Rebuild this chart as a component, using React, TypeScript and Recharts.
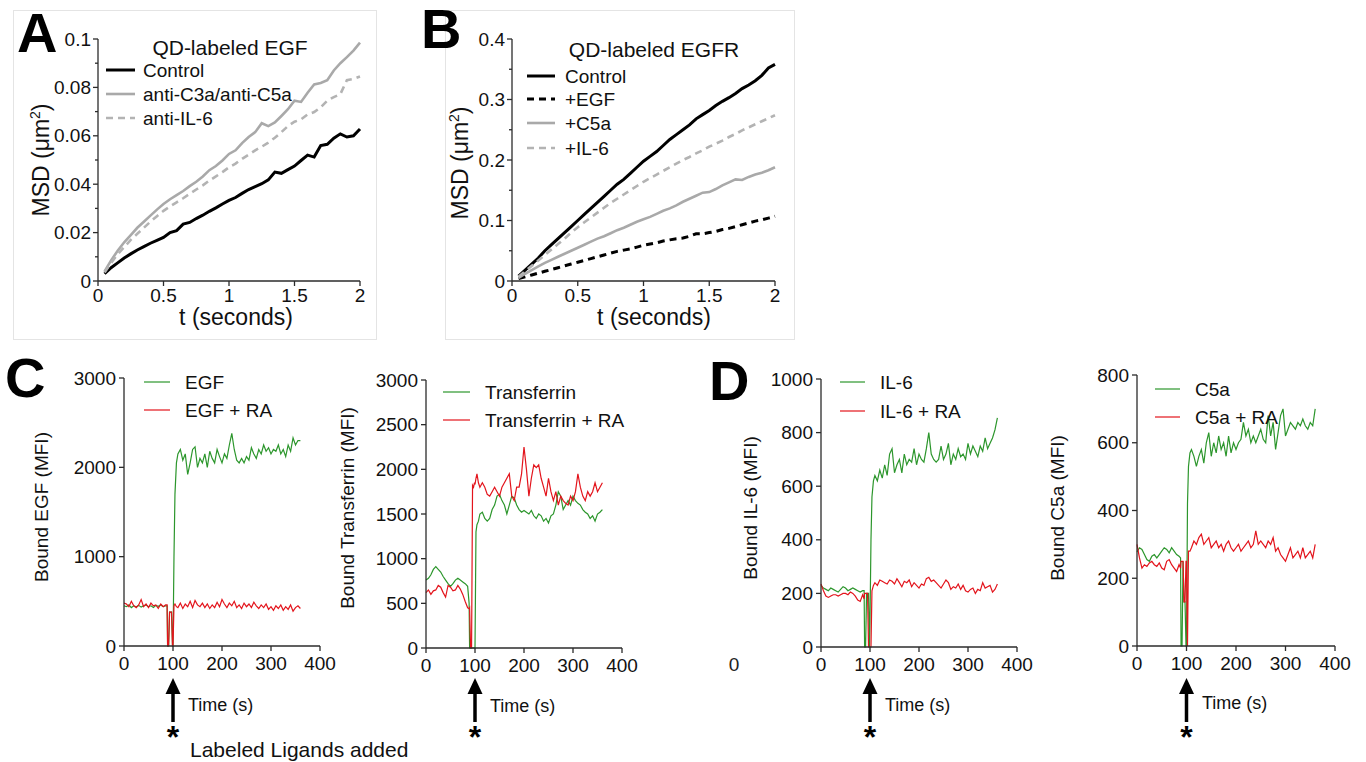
import React from "react";
import { LineChart, Line, XAxis, YAxis, Legend } from "recharts";

const FONT = '"Liberation Sans", Arial, Helvetica, sans-serif';
const AXIS = "#2b2b2b";
const GREEN = "#2c962c";
const RED = "#e3141c";

// ---------- A / B : MSD vs lag time ----------
const MSD_T = [
  0.05, 0.1, 0.15, 0.2, 0.25, 0.3, 0.35, 0.4, 0.45, 0.5,
  0.55, 0.6, 0.65, 0.7, 0.75, 0.8, 0.85, 0.9, 0.95, 1,
  1.05, 1.1, 1.15, 1.2, 1.25, 1.3, 1.35, 1.4, 1.45, 1.5,
  1.55, 1.6, 1.65, 1.7, 1.75, 1.8, 1.85, 1.9, 1.95, 2,
];

const A_CONTROL = [
  0.003, 0.0055, 0.0075, 0.0095, 0.0112, 0.0128, 0.0142, 0.0156, 0.0168, 0.018,
  0.02, 0.0208, 0.0235, 0.0242, 0.0258, 0.0272, 0.0288, 0.0302, 0.0318, 0.0333,
  0.0345, 0.0362, 0.0378, 0.039, 0.0402, 0.0418, 0.045, 0.0445, 0.046, 0.0475,
  0.0498, 0.052, 0.0512, 0.056, 0.0565, 0.059, 0.0608, 0.0595, 0.06, 0.0628,
];
const A_C3A = [
  0.004, 0.0085, 0.0125, 0.016, 0.019, 0.022, 0.0245, 0.027, 0.0295, 0.0318,
  0.0338, 0.0355, 0.0372, 0.0392, 0.041, 0.0432, 0.0458, 0.0475, 0.0498, 0.0525,
  0.054, 0.057, 0.0595, 0.0615, 0.0652, 0.064, 0.0655, 0.0682, 0.071, 0.0745,
  0.074, 0.0778, 0.0812, 0.0818, 0.083, 0.087, 0.09, 0.0925, 0.0952, 0.0985,
];
const A_IL6 = [
  0.0035, 0.0075, 0.011, 0.014, 0.017, 0.0195, 0.022, 0.0245, 0.0268, 0.029,
  0.0308, 0.0325, 0.0342, 0.036, 0.0378, 0.0395, 0.0415, 0.0432, 0.045, 0.047,
  0.0485, 0.0505, 0.0522, 0.054, 0.0555, 0.0572, 0.0592, 0.0615, 0.064, 0.0658,
  0.0668, 0.0688, 0.0698, 0.0718, 0.0745, 0.076, 0.0772, 0.083, 0.0835, 0.0845,
];

const B_CONTROL = [
  0.008, 0.018, 0.028, 0.038, 0.05, 0.06, 0.07, 0.08, 0.09, 0.1,
  0.11, 0.12, 0.13, 0.14, 0.15, 0.16, 0.168, 0.178, 0.188, 0.198,
  0.206, 0.214, 0.224, 0.234, 0.242, 0.25, 0.258, 0.268, 0.275, 0.282,
  0.29, 0.297, 0.303, 0.31, 0.318, 0.324, 0.331, 0.34, 0.352, 0.358,
];
const B_EGF = [
  0.004, 0.007, 0.01, 0.013, 0.016, 0.019, 0.022, 0.025, 0.028, 0.031,
  0.034, 0.037, 0.04, 0.043, 0.046, 0.049, 0.051, 0.053, 0.056, 0.059,
  0.061, 0.063, 0.066, 0.068, 0.07, 0.071, 0.074, 0.078, 0.078, 0.08,
  0.082, 0.085, 0.087, 0.09, 0.093, 0.096, 0.099, 0.101, 0.104, 0.107,
];
const B_C5A = [
  0.005, 0.012, 0.018, 0.024, 0.03, 0.035, 0.04, 0.045, 0.05, 0.055,
  0.06, 0.065, 0.07, 0.074, 0.079, 0.084, 0.088, 0.093, 0.098, 0.102,
  0.106, 0.111, 0.116, 0.12, 0.125, 0.131, 0.136, 0.141, 0.146, 0.147,
  0.152, 0.158, 0.163, 0.168, 0.167, 0.172, 0.176, 0.179, 0.183, 0.188,
];
const B_IL6 = [
  0.007, 0.016, 0.025, 0.034, 0.043, 0.052, 0.061, 0.07, 0.08, 0.089,
  0.097, 0.105, 0.113, 0.121, 0.129, 0.136, 0.143, 0.15, 0.157, 0.164,
  0.17, 0.176, 0.182, 0.188, 0.194, 0.2, 0.205, 0.211, 0.216, 0.222,
  0.227, 0.232, 0.238, 0.243, 0.249, 0.254, 0.259, 0.264, 0.269, 0.274,
];

const MSD_X_TICKS = [0, 0.5, 1, 1.5, 2];
const A_Y_TICKS = [0, 0.01, 0.02, 0.03, 0.04, 0.05, 0.06, 0.07, 0.08, 0.09, 0.1];
const B_Y_TICKS = [0, 0.05, 0.1, 0.15, 0.2, 0.25, 0.3, 0.35, 0.4];

// ---------- C / D : bound ligand over time ----------
const TIME = [
  0, 5, 10, 15, 20, 25, 30, 35, 40, 45, 50, 55, 60, 65, 70, 75, 80, 85,
  88, 89, 91, 93, 95, 97, 99, 100, 102, 104, 107,
  110, 115, 120, 125, 130, 135, 140, 145, 150, 155,
  160, 165, 170, 175, 180, 185, 190, 195, 200, 205,
  210, 215, 220, 225, 230, 235, 240, 245, 250, 255,
  260, 265, 270, 275, 280, 285, 290, 295, 300, 305,
  310, 315, 320, 325, 330, 335, 340, 345, 350, 355,
  360,
];

const EGF = [
  450, 440, 460, 430, 450, 440, 455, 435, 450, 460, 440, 450, 430, 455, 445, 460, 440, 450,
  450, 0, 0, 380, 380, 380, 0, 0, 1000, 1700, 2050,
  2150, 2200, 2080, 2150, 1920, 2050, 2200, 2230, 2000, 2100,
  2050, 2150, 2000, 2180, 2100, 2050, 2200, 2120, 2050, 2150,
  2100, 2250, 2380, 2200, 2080, 2050, 2100, 2050, 2120, 2080,
  2220, 2150, 2100, 2200, 2150, 2250, 2180, 2220, 2150, 2200,
  2180, 2250, 2150, 2200, 2120, 2250, 2180, 2330, 2250, 2300,
  2300,
];
const EGF_RA = [
  480, 470, 440, 500, 450, 430, 460, 520, 440, 470, 430, 480, 450, 460, 420, 470, 440, 460,
  460, 0, 0, 380, 380, 380, 0, 0, 450, 470, 440,
  430, 480, 420, 470, 440, 500, 430, 510, 460, 440,
  480, 430, 470, 420, 460, 430, 490, 440, 520, 470,
  430, 480, 450, 500, 430, 460, 420, 480, 440, 470,
  430, 490, 450, 420, 460, 430, 470, 410, 440, 400,
  450, 420, 460, 400, 440, 410, 460, 390, 430, 450,
  420,
];

const TRANSFERRIN = [
  760, 780, 820, 880, 910, 880, 850, 800, 760, 720, 690, 720, 760, 780, 760, 740, 720, 690,
  500, 0, 0, 0, 0, 0, 0, 0, 1300, 1380, 1420,
  1500, 1520, 1450, 1420, 1450, 1550, 1600, 1700, 1720, 1650,
  1600, 1500, 1600, 1700, 1680, 1600, 1550, 1520, 1540, 1520,
  1500, 1540, 1480, 1450, 1500, 1480, 1420, 1450, 1400, 1480,
  1500, 1600, 1750, 1700, 1550, 1600, 1650, 1600, 1700, 1650,
  1620, 1600, 1550, 1520, 1500, 1450, 1480, 1420, 1500, 1520,
  1550,
];
const TRANSFERRIN_RA = [
  620, 650, 600, 640, 650, 700, 680, 620, 570, 700, 680, 640, 650, 700, 660, 600, 520, 450,
  440, 450, 0, 0, 1820, 1800, 1850, 1830, 1900, 1950, 1850,
  1800, 1850, 1800, 1720, 1700, 1750, 1800, 1750, 1700, 1800,
  1850, 1900, 1950, 1700, 1650, 1800, 1800, 1950, 2250, 2000,
  1700, 1900, 2050, 2020, 2050, 1900, 1800, 1700, 1900, 1750,
  1650, 1750, 1600, 1700, 1650, 1620, 1600, 1700, 1650, 1750,
  1950, 1800, 1700, 1650, 1750, 1700, 1750, 1850, 1750, 1800,
  1850,
];

const IL6 = [
  230, 220, 215, 210, 220, 215, 210, 205, 215, 225, 220, 210, 215, 220, 215, 210, 205, 210,
  210, 0, 0, 200, 200, 200, 0, 100, 400, 560, 620,
  640, 620, 660, 630, 680, 640, 720, 740, 650, 680,
  700, 650, 720, 680, 700, 690, 740, 680, 720, 700,
  690, 740, 800, 720, 700, 690, 700, 750, 700, 720,
  760, 680, 720, 700, 740, 710, 720, 700, 760, 720,
  750, 730, 710, 750, 730, 780, 740, 760, 780, 810,
  855,
];
const IL6_RA = [
  235, 210, 190, 185, 190, 195, 195, 190, 195, 200, 200, 195, 205, 200, 190, 175, 170, 195,
  180, 200, 200, 200, 200, 0, 0, 0, 0, 210, 230,
  240, 230, 250, 245, 240, 235, 250, 245, 235, 255,
  240, 225, 245, 240, 250, 225, 240, 230, 220, 235,
  230, 255, 260, 245, 250, 240, 230, 220, 235, 250,
  240, 215, 225, 220, 235, 215, 230, 210, 205, 215,
  220, 200, 215, 210, 240, 220, 225, 230, 205, 215,
  235,
];

const C5A = [
  278, 290, 285, 270, 255, 250, 265, 270, 260, 270, 280, 290, 285, 275, 290, 280, 270, 265,
  260, 0, 0, 250, 130, 130, 0, 0, 420, 530, 570,
  580, 560, 530, 560, 580, 540, 600, 630, 560, 600,
  570, 620, 580, 600, 560, 620, 570, 600, 580, 600,
  610, 660, 620, 640, 600, 620, 600, 620, 640, 610,
  600, 680, 620, 660, 580, 630, 680, 700, 620, 640,
  660, 650, 640, 660, 650, 670, 650, 640, 660, 650,
  700,
];
const C5A_RA = [
  300, 260, 230, 240, 235, 245, 250, 240, 235, 245, 230, 225, 250, 255, 240, 230, 220, 240,
  230, 250, 250, 250, 130, 130, 250, 250, 0, 280, 280,
  290, 310, 300, 320, 330, 300, 310, 320, 290, 300,
  310, 290, 300, 280, 300, 310, 290, 280, 290, 300,
  280, 290, 300, 310, 290, 300, 340, 300, 310, 300,
  290, 310, 300, 320, 280, 290, 270, 260, 250, 270,
  290, 260, 270, 280, 260, 290, 260, 270, 280, 260,
  300,
];

const TIME_TICKS = [0, 100, 200, 300, 400];

const msdA = MSD_T.map((t, i) => ({ t, control: A_CONTROL[i], c3a: A_C3A[i], il6: A_IL6[i] }));
const msdB = MSD_T.map((t, i) => ({ t, control: B_CONTROL[i], egf: B_EGF[i], c5a: B_C5A[i], il6: B_IL6[i] }));
const pair = (a: number[], b: number[]) => TIME.map((t, i) => ({ t, plain: a[i], ra: b[i] }));

type Series = { key: string; name: string; color: string; width: number; dash?: string };
type LegendDef = {
  title?: string;
  titleAt?: [number, number];
  titleSize?: number;
  x1: number;
  x2: number;
  tx: number;
  rows: number[];
  size: number;
};
type PanelDef = {
  box: [number, number, number, number];
  plot: [number, number, number, number];
  data: any[];
  series: Series[];
  xDomain: [number, number];
  xTicks: number[];
  yDomain: [number, number];
  yTicks: number[];
  minor: boolean;
  tickSize: number;
  yGap: number;
  xBase: number;
  yLabel: React.ReactNode;
  yLabelAt: [number, number];
  yLabelSize: number;
  xLabel: string;
  xLabelAt: [number, number];
  xLabelSize: number;
  xLabelAnchor: "middle" | "start";
  legend: LegendDef;
};

function YTick(props: any) {
  const { x, y, payload, index, minor, size, gap } = props;
  const major = !minor || index % 2 === 0;
  return (
    <g>
      <line x1={x} x2={x - (major ? 5 : 3)} y1={y} y2={y} stroke={AXIS} strokeWidth={1.3} />
      {major && (
        <text x={x - gap} y={y + size * 0.35} textAnchor="end" fontSize={size} fontFamily={FONT} fill="#111">
          {payload.value}
        </text>
      )}
    </g>
  );
}

function XTick(props: any) {
  const { x, y, payload, size, base } = props;
  return (
    <g>
      <line x1={x} x2={x} y1={y} y2={y + 5} stroke={AXIS} strokeWidth={1.3} />
      <text x={x} y={y + base} textAnchor="middle" fontSize={size} fontFamily={FONT} fill="#111">
        {payload.value}
      </text>
    </g>
  );
}

function Panel({ def }: { def: PanelDef }) {
  const [left, top, width, height] = def.box;
  const [pl, pt, pr, pb] = def.plot;
  const lg = def.legend;

  const legendContent = (props: any) => {
    const payload = props.payload || [];
    // keep the series order, not the legend's sorted order
    const items = def.series
      .map((s) => payload.find((p: any) => p.dataKey === s.key))
      .filter(Boolean);
    return (
      <svg width={width} height={height} style={{ overflow: "visible" }}>
        {lg.title && lg.titleAt && (
          <text
            x={lg.titleAt[0] - left}
            y={lg.titleAt[1] - top}
            textAnchor="middle"
            fontSize={lg.titleSize}
            fontFamily={FONT}
            fill="#111"
          >
            {lg.title}
          </text>
        )}
        {items.map((it: any, i: number) => (
          <g key={i}>
            <line
              x1={lg.x1 - left}
              x2={lg.x2 - left}
              y1={lg.rows[i] - top}
              y2={lg.rows[i] - top}
              stroke={it.color}
              strokeWidth={it.payload?.strokeWidth}
              strokeDasharray={it.payload?.strokeDasharray}
            />
            <text x={lg.tx - left} y={lg.rows[i] - top + lg.size * 0.36} fontSize={lg.size} fontFamily={FONT} fill="#111">
              {it.value}
            </text>
          </g>
        ))}
      </svg>
    );
  };

  return (
    <div style={{ position: "absolute", left, top, width, height }}>
      <LineChart
        width={width}
        height={height}
        data={def.data}
        margin={{ top: pt - top, right: left + width - pr, bottom: 0, left: 0 }}
      >
        <XAxis
          dataKey="t"
          type="number"
          domain={def.xDomain}
          ticks={def.xTicks}
          interval={0}
          height={top + height - pb}
          stroke={AXIS}
          strokeWidth={1.3}
          tickLine={false}
          tickSize={0}
          tickMargin={0}
          tick={<XTick size={def.tickSize} base={def.xBase} />}
          label={() => (
            <text
              x={def.xLabelAt[0] - left}
              y={def.xLabelAt[1] - top}
              textAnchor={def.xLabelAnchor}
              fontSize={def.xLabelSize}
              fontFamily={FONT}
              fill="#111"
            >
              {def.xLabel}
            </text>
          )}
        />
        <YAxis
          type="number"
          domain={def.yDomain}
          ticks={def.yTicks}
          interval={0}
          width={pl - left}
          stroke={AXIS}
          strokeWidth={1.3}
          tickLine={false}
          tickSize={0}
          tickMargin={0}
          tick={<YTick minor={def.minor} size={def.tickSize} gap={def.yGap} />}
          label={() => (
            <text
              transform={`translate(${def.yLabelAt[0] - left},${def.yLabelAt[1] - top}) rotate(-90)`}
              textAnchor="middle"
              fontSize={def.yLabelSize}
              fontFamily={FONT}
              fill="#111"
            >
              {def.yLabel}
            </text>
          )}
        />
        <Legend
          layout="vertical"
          align="center"
          verticalAlign="middle"
          content={legendContent}
          wrapperStyle={{ left: 0, top: 0, width, height, pointerEvents: "none" }}
        />
        {def.series.map((s) => (
          <Line
            key={s.key}
            dataKey={s.key}
            name={s.name}
            type="linear"
            stroke={s.color}
            strokeWidth={s.width}
            strokeDasharray={s.dash}
            dot={false}
            activeDot={false}
            isAnimationActive={false}
          />
        ))}
      </LineChart>
    </div>
  );
}

const msdSup = (
  <>
    MSD (μm
    <tspan fontSize={14} dy={-9}>
      2
    </tspan>
    <tspan dy={9}>)</tspan>
  </>
);

const panelA: PanelDef = {
  box: [13, 10, 364, 330],
  plot: [98, 39, 360, 281],
  data: msdA,
  series: [
    { key: "control", name: "Control", color: "#000", width: 3 },
    { key: "c3a", name: "anti-C3a/anti-C5a", color: "#a9a9a9", width: 2.6 },
    { key: "il6", name: "anti-IL-6", color: "#b3b3b3", width: 2.6, dash: "7 5" },
  ],
  xDomain: [0, 2],
  xTicks: MSD_X_TICKS,
  yDomain: [0, 0.1],
  yTicks: A_Y_TICKS,
  minor: true,
  tickSize: 19,
  yGap: 7,
  xBase: 21,
  yLabel: msdSup,
  yLabelAt: [49, 160],
  yLabelSize: 23,
  xLabel: "t (seconds)",
  xLabelAt: [236, 325],
  xLabelSize: 23,
  xLabelAnchor: "middle",
  legend: { title: "QD-labeled EGF", titleAt: [230, 55], titleSize: 21, x1: 106, x2: 135, tx: 143, rows: [70, 94, 118], size: 19 },
};

const panelB: PanelDef = {
  box: [445, 10, 352, 330],
  plot: [512, 39, 775, 281],
  data: msdB,
  series: [
    { key: "control", name: "Control", color: "#000", width: 3 },
    { key: "egf", name: "+EGF", color: "#000", width: 3, dash: "7 5" },
    { key: "c5a", name: "+C5a", color: "#a9a9a9", width: 2.6 },
    { key: "il6", name: "+IL-6", color: "#b3b3b3", width: 2.6, dash: "7 5" },
  ],
  xDomain: [0, 2],
  xTicks: MSD_X_TICKS,
  yDomain: [0, 0.4],
  yTicks: B_Y_TICKS,
  minor: true,
  tickSize: 19,
  yGap: 7,
  xBase: 21,
  yLabel: msdSup,
  yLabelAt: [468, 163],
  yLabelSize: 23,
  xLabel: "t (seconds)",
  xLabelAt: [654, 325],
  xLabelSize: 23,
  xLabelAnchor: "middle",
  legend: { title: "QD-labeled EGFR", titleAt: [654, 57], titleSize: 21, x1: 527, x2: 555, tx: 565, rows: [76, 99, 123, 148], size: 19 },
};

function tracePanel(
  box: [number, number, number, number],
  plot: [number, number, number, number],
  data: any[],
  names: [string, string],
  yMax: number,
  yTicks: number[],
  yLabel: string,
  yLabelAt: [number, number],
  xLabelAt: [number, number],
  legend: { x1: number; x2: number; tx: number; rows: number[] }
): PanelDef {
  return {
    box,
    plot,
    data,
    series: [
      { key: "plain", name: names[0], color: GREEN, width: 1.2 },
      { key: "ra", name: names[1], color: RED, width: 1.2 },
    ],
    xDomain: [0, 400],
    xTicks: TIME_TICKS,
    yDomain: [0, yMax],
    yTicks,
    minor: false,
    tickSize: 19,
    yGap: 8,
    xBase: 24,
    yLabel,
    yLabelAt,
    yLabelSize: 19,
    xLabel: "Time (s)",
    xLabelAt,
    xLabelSize: 18,
    xLabelAnchor: "start",
    legend: { ...legend, size: 19 },
  };
}

const panelC1 = tracePanel(
  [14, 362, 330, 364], [124, 378, 320, 646], pair(EGF, EGF_RA), ["EGF", "EGF + RA"],
  3000, [0, 1000, 2000, 3000], "Bound EGF (MFI)", [48, 507], [188, 711],
  { x1: 144, x2: 170, tx: 185, rows: [382, 410] }
);
const panelC2 = tracePanel(
  [336, 364, 310, 364], [426, 380, 622, 648], pair(TRANSFERRIN, TRANSFERRIN_RA), ["Transferrin", "Transferrin + RA"],
  3000, [0, 500, 1000, 1500, 2000, 2500, 3000], "Bound Transferrin (MFI)", [354, 508], [490, 712],
  { x1: 443, x2: 470, tx: 485, rows: [392, 420] }
);
const panelD1 = tracePanel(
  [731, 363, 310, 364], [821, 379, 1017, 647], pair(IL6, IL6_RA), ["IL-6", "IL-6 + RA"],
  1000, [0, 200, 400, 600, 800, 1000], "Bound IL-6 (MFI)", [757, 508], [885, 711],
  { x1: 840, x2: 865, tx: 880, rows: [382, 411] }
);
const panelD2 = tracePanel(
  [1047, 359, 315, 367], [1137, 375, 1335, 646], pair(C5A, C5A_RA), ["C5a", "C5a + RA"],
  800, [0, 200, 400, 600, 800], "Bound C5a (MFI)", [1064, 508], [1202, 709],
  { x1: 1155, x2: 1180, tx: 1195, rows: [389, 417] }
);

const TRACES = [panelC1, panelC2, panelD1, panelD2];

function Arrow({ x }: { x: number }) {
  return (
    <g>
      <line x1={x} x2={x} y1={722} y2={690} stroke="#000" strokeWidth={3.5} />
      <polygon points={`${x},678 ${x - 7.5},694 ${x + 7.5},694`} fill="#000" />
      <text x={x} y={748} textAnchor="middle" fontSize={32} fontWeight="bold" fontFamily={FONT}>
        *
      </text>
    </g>
  );
}

export default function App() {
  const letters: [string, number, number][] = [
    ["A", 17, 52],
    ["B", 421, 48],
    ["C", 5, 397],
    ["D", 709, 400],
  ];
  return (
    <div
      style={{
        position: "absolute",
        left: 0,
        top: 0,
        width: 1366,
        height: 762,
        background: "#fff",
        overflow: "hidden",
        fontFamily: FONT,
      }}
    >
      <div style={{ position: "absolute", left: 13, top: 10, width: 364, height: 330, border: "1px solid #e4e4e4", boxSizing: "border-box" }} />
      <div style={{ position: "absolute", left: 445, top: 10, width: 350, height: 330, border: "1px solid #e4e4e4", boxSizing: "border-box" }} />
      <Panel def={panelA} />
      <Panel def={panelB} />
      {TRACES.map((p, i) => (
        <Panel key={i} def={p} />
      ))}
      <svg width={1366} height={762} style={{ position: "absolute", left: 0, top: 0, pointerEvents: "none" }}>
        {letters.map(([s, x, y]) => (
          <text key={s} x={x} y={y} fontSize={56} fontWeight="bold" fontFamily={FONT} fill="#000">
            {s}
          </text>
        ))}
        {TRACES.map((p, i) => {
          const [pl, , pr] = p.plot;
          const x = pl + ((100 - p.xDomain[0]) / (p.xDomain[1] - p.xDomain[0])) * (pr - pl);
          return <Arrow key={i} x={x} />;
        })}
        <text x={190} y={757} fontSize={21} fontFamily={FONT} fill="#111">
          Labeled Ligands added
        </text>
        <text x={734} y={671} textAnchor="middle" fontSize={19} fontFamily={FONT} fill="#222">
          0
        </text>
      </svg>
    </div>
  );
}
